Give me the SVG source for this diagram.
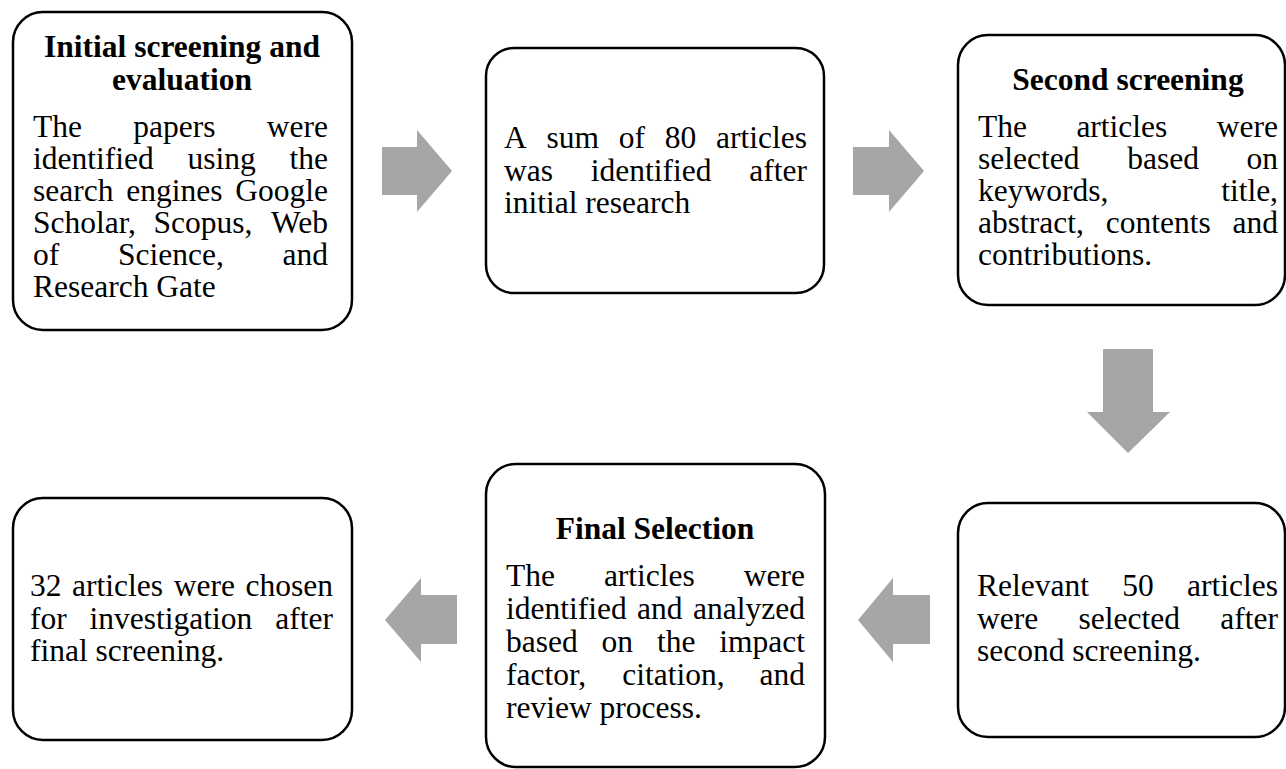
<svg xmlns="http://www.w3.org/2000/svg" width="1286" height="769" viewBox="0 0 1286 769">
<style>
.box{fill:#fff;stroke:#000;stroke-width:2.5}
.arr{fill:#a6a6a6;stroke:none}
text{font-family:"Liberation Serif","Times New Roman",serif;font-size:31.5px;fill:#000}
.t{font-weight:bold;text-anchor:middle}
.e{text-anchor:end}
</style>
<rect width="1286" height="769" fill="#fff"/>
<g id="connectors">
<polygon class="arr" points="382,147 417,147 417,130 452,171 417,212 417,195 382,195"/>
<polygon class="arr" points="853,147 889,147 889,130 924,171 889,212 889,195 853,195"/>
<polygon class="arr" points="1103,349 1153,349 1153,412 1170,412 1128,453 1087,412 1103,412"/>
<polygon class="arr" points="930,595 893,595 893,578 858,620 893,662 893,644 930,644"/>
<polygon class="arr" points="457,595 421,595 421,578 385,620 421,662 421,644 457,644"/>
</g>
<g id="node1">
<rect class="box" x="13" y="12" width="339" height="318" rx="30"/>
<text class="t" x="182" y="57">Initial screening and</text>
<text class="t" x="182" y="90">evaluation</text>
<text y="137"><tspan x="33">The</tspan><tspan x="133.3">papers</tspan></text><text class="e" x="328" y="137">were</text>
<text y="169"><tspan x="33">identified</tspan><tspan x="187.5">using</tspan></text><text class="e" x="328" y="169">the</text>
<text y="201"><tspan x="33">search</tspan><tspan x="126.3">engines</tspan></text><text class="e" x="328" y="201">Google</text>
<text y="233"><tspan x="33">Scholar,</tspan><tspan x="153.4">Scopus,</tspan></text><text class="e" x="328" y="233">Web</text>
<text y="265"><tspan x="33">of</tspan><tspan x="118">Science,</tspan></text><text class="e" x="328" y="265">and</text>
<text x="33" y="297">Research Gate</text>
</g>
<g id="node2">
<rect class="box" x="486" y="48" width="338" height="245" rx="28"/>
<text y="148"><tspan x="504">A</tspan><tspan x="546.5">sum</tspan><tspan x="618.8">of</tspan><tspan x="664.8">80</tspan></text><text class="e" x="807" y="148">articles</text>
<text y="180.5"><tspan x="504">was</tspan><tspan x="590.8">identified</tspan></text><text class="e" x="807" y="180.5">after</text>
<text x="504" y="213">initial research</text>
</g>
<g id="node3">
<rect class="box" x="958" y="35" width="327" height="270" rx="30"/>
<text class="t" x="1128" y="90">Second screening</text>
<text y="137"><tspan x="978">The</tspan><tspan x="1076.4">articles</tspan></text><text class="e" x="1278" y="137">were</text>
<text y="169"><tspan x="978">selected</tspan><tspan x="1127.2">based</tspan></text><text class="e" x="1278" y="169">on</text>
<text x="978" y="201">keywords,</text><text class="e" x="1278" y="201">title,</text>
<text y="233"><tspan x="978">abstract,</tspan><tspan x="1105.7">contents</tspan></text><text class="e" x="1278" y="233">and</text>
<text x="978" y="265">contributions.</text>
</g>
<g id="node4">
<rect class="box" x="958" y="503" width="327" height="234" rx="30"/>
<text y="596"><tspan x="977">Relevant</tspan><tspan x="1122.3">50</tspan></text><text class="e" x="1278" y="596">articles</text>
<text y="628.5"><tspan x="977">were</tspan><tspan x="1078.5">selected</tspan></text><text class="e" x="1278" y="628.5">after</text>
<text x="977" y="661">second screening.</text>
</g>
<g id="node5">
<rect class="box" x="13" y="498" width="339" height="242" rx="30"/>
<text y="596"><tspan x="30">32</tspan><tspan x="72.1">articles</tspan><tspan x="173.7">were</tspan></text><text class="e" x="333" y="596">chosen</text>
<text y="628.5"><tspan x="30">for</tspan><tspan x="89.6">investigation</tspan></text><text class="e" x="333" y="628.5">after</text>
<text x="30" y="661">final screening.</text>
</g>
<g id="node6">
<rect class="box" x="486" y="464" width="339" height="303" rx="30"/>
<text class="t" x="655" y="539">Final Selection</text>
<text y="586"><tspan x="506">The</tspan><tspan x="603.9">articles</tspan></text><text class="e" x="805" y="586">were</text>
<text y="619"><tspan x="506">identified</tspan><tspan x="637.1">and</tspan></text><text class="e" x="805" y="619">analyzed</text>
<text y="652"><tspan x="506">based</tspan><tspan x="601.6">on</tspan><tspan x="656.9">the</tspan></text><text class="e" x="805" y="652">impact</text>
<text y="685"><tspan x="506">factor,</tspan><tspan x="622.2">citation,</tspan></text><text class="e" x="805" y="685">and</text>
<text x="506" y="718">review process.</text>
</g>
</svg>
